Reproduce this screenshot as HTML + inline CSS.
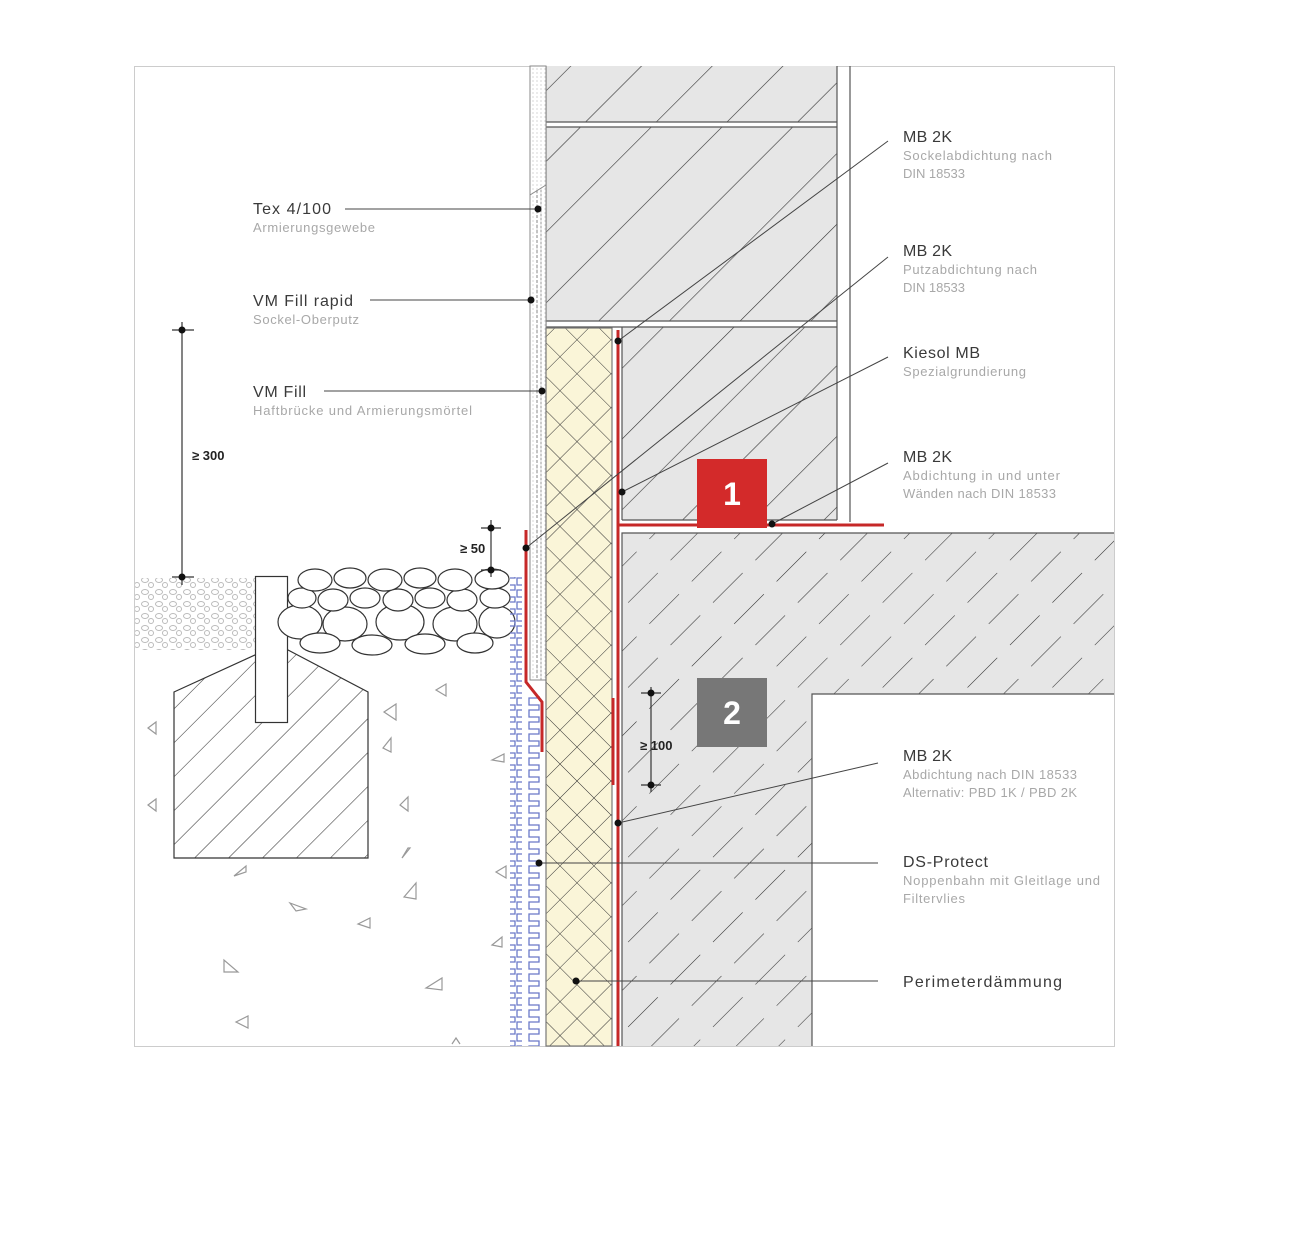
<!DOCTYPE html>
<html><head><meta charset="utf-8"><style>
html,body{margin:0;padding:0;background:#fff}
svg{display:block}
.t{font-family:"Liberation Sans",sans-serif;font-size:16px;fill:#3a3a3a}
.s{font-family:"Liberation Sans",sans-serif;font-size:13px;fill:#a8a8a8}
.d{font-family:"Liberation Sans",sans-serif;font-size:13px;fill:#222;font-weight:bold}
</style></head><body>
<svg width="1292" height="1256" viewBox="0 0 1292 1256" xmlns="http://www.w3.org/2000/svg">
<defs>
<pattern id="mas" width="50" height="50" patternUnits="userSpaceOnUse" patternTransform="rotate(45)">
<rect width="50" height="50" fill="#e6e6e6"/><line x1="0" y1="0" x2="0" y2="50" stroke="#333" stroke-width="1.2"/></pattern>
<pattern id="con" width="30" height="60" patternUnits="userSpaceOnUse" patternTransform="rotate(45)">
<rect width="30" height="60" fill="#e6e6e6"/><line x1="0" y1="0" x2="0" y2="42" stroke="#333" stroke-width="1.1"/></pattern>
<pattern id="foot" width="24" height="24" patternUnits="userSpaceOnUse" patternTransform="rotate(45)">
<rect width="24" height="24" fill="#fff"/><line x1="0" y1="0" x2="0" y2="24" stroke="#333" stroke-width="1.1"/></pattern>
<pattern id="ins" width="24" height="24" patternUnits="userSpaceOnUse" patternTransform="rotate(45)">
<rect width="24" height="24" fill="#faf5d8"/><line x1="0" y1="0" x2="0" y2="24" stroke="#333" stroke-width="1"/><line x1="0" y1="0" x2="24" y2="0" stroke="#333" stroke-width="1"/></pattern>
<pattern id="grav" width="14" height="12" patternUnits="userSpaceOnUse">
<rect width="14" height="12" fill="#fff"/><ellipse cx="5" cy="4" rx="3.5" ry="2.5" fill="none" stroke="#bbb"/><circle cx="11" cy="9" r="2.5" fill="none" stroke="#bbb"/></pattern>
<pattern id="dots" width="4" height="4" patternUnits="userSpaceOnUse"><rect width="4" height="4" fill="#fff"/><circle cx="1" cy="1" r="0.6" fill="#bbb"/></pattern>
<pattern id="nop" width="12" height="12" patternUnits="userSpaceOnUse">
<path d="M11,0 V2 H1 V9 H11 V12" fill="none" stroke="#6a78c8" stroke-width="1.3"/></pattern>
</defs>

<rect x="134.5" y="66.5" width="980" height="980" fill="#fff" stroke="#ccc"/>

<rect x="135" y="578" width="120" height="72" fill="url(#grav)"/>

<polygon points="174,692 255,655 288,650 368,692 368,858 174,858" fill="url(#foot)" stroke="#333" stroke-width="1.2"/>
<rect x="255.5" y="576.5" width="32" height="146" fill="#fff" stroke="#333" stroke-width="1.2"/>

<g fill="#fff" stroke="#333" stroke-width="1.2">
<ellipse cx="300" cy="622" rx="22" ry="17"/><ellipse cx="345" cy="624" rx="22" ry="17"/><ellipse cx="400" cy="622" rx="24" ry="18"/><ellipse cx="455" cy="624" rx="22" ry="17"/><ellipse cx="497" cy="622" rx="18" ry="16"/>
<ellipse cx="320" cy="643" rx="20" ry="10"/><ellipse cx="372" cy="645" rx="20" ry="10"/><ellipse cx="425" cy="644" rx="20" ry="10"/><ellipse cx="475" cy="643" rx="18" ry="10"/>
<ellipse cx="302" cy="598" rx="14" ry="10"/><ellipse cx="333" cy="600" rx="15" ry="11"/><ellipse cx="365" cy="598" rx="15" ry="10"/><ellipse cx="398" cy="600" rx="15" ry="11"/><ellipse cx="430" cy="598" rx="15" ry="10"/><ellipse cx="462" cy="600" rx="15" ry="11"/><ellipse cx="495" cy="598" rx="15" ry="10"/>
<ellipse cx="315" cy="580" rx="17" ry="11"/><ellipse cx="350" cy="578" rx="16" ry="10"/><ellipse cx="385" cy="580" rx="17" ry="11"/><ellipse cx="420" cy="578" rx="16" ry="10"/><ellipse cx="455" cy="580" rx="17" ry="11"/><ellipse cx="492" cy="579" rx="17" ry="10"/>
</g>

<g fill="none" stroke="#999" stroke-width="1.2">
<path d="M148,728 l8,-6 v12z"/><path d="M148,805 l8,-6 v12z"/><path d="M436,690 l10,-6 v12z"/><path d="M384,712 l12,-8 v16z"/><path d="M383,748 l8,-10 v14z"/><path d="M400,805 l8,-8 v14z"/><path d="M402,858 l8,-10 h-2z"/><path d="M404,897 l12,-14 v16z"/><path d="M492,760 l12,-6 v8z"/><path d="M496,872 l10,-6 v12z"/><path d="M492,945 l10,-8 v10z"/><path d="M234,876 l12,-10 v6z"/><path d="M290,903 l16,6 -10,2z"/><path d="M358,924 l12,-6 v10z"/><path d="M224,960 v12 h14z"/><path d="M426,988 l16,-10 v12z"/><path d="M236,1022 l12,-6 v12z"/><path d="M452,1044 l4,-6 4,6"/>
</g>

<rect x="546" y="66" width="291" height="56" fill="url(#mas)"/>
<rect x="546" y="127" width="291" height="194" fill="url(#mas)"/>
<rect x="622" y="327" width="215" height="193" fill="url(#mas)"/>
<g stroke="#555" stroke-width="1.2" fill="none">
<line x1="546" y1="122" x2="837" y2="122"/><line x1="546" y1="127" x2="837" y2="127"/>
<line x1="546" y1="321" x2="837" y2="321"/><line x1="546" y1="327" x2="837" y2="327"/>
<line x1="837" y1="66" x2="837" y2="520"/><line x1="850" y1="66" x2="850" y2="522"/>
<line x1="546" y1="66" x2="546" y2="327"/><line x1="622" y1="327" x2="622" y2="520"/>
<line x1="622" y1="520" x2="837" y2="520"/>
</g>

<rect x="622" y="533" width="492" height="161" fill="url(#con)"/>
<rect x="622" y="694" width="190" height="352" fill="url(#con)"/>
<g stroke="#555" stroke-width="1.2" fill="none">
<polyline points="622,1046 622,533 1114,533"/><polyline points="1114,694 812,694 812,1046"/>
</g>

<rect x="530" y="66" width="16" height="614" fill="url(#dots)" stroke="#888" stroke-width="1"/>
<line x1="537" y1="190" x2="537" y2="680" stroke="#888" stroke-dasharray="3,2"/>
<line x1="541" y1="190" x2="541" y2="680" stroke="#999" stroke-dasharray="2,2"/>
<line x1="530" y1="195" x2="546" y2="185" stroke="#888"/>

<rect x="546" y="328" width="66" height="718" fill="url(#ins)" stroke="#777" stroke-width="1.2"/>

<rect x="510" y="577" width="12" height="469" fill="url(#nop)"/>
<rect x="528" y="696" width="12" height="350" fill="url(#nop)"/>

<g stroke="#c62828" stroke-width="3" fill="none">
<polyline points="526,530 526,682 542,702 542,752"/>
<line x1="618" y1="330" x2="618" y2="1046"/>
<line x1="618" y1="525" x2="884" y2="525"/>
<line x1="613" y1="698" x2="613" y2="785"/>
</g>

<g stroke="#333" stroke-width="1.2">
<line x1="182" y1="322" x2="182" y2="585"/><line x1="172" y1="330" x2="194" y2="330"/><line x1="172" y1="577" x2="194" y2="577"/>
<line x1="491" y1="520" x2="491" y2="577"/><line x1="481" y1="528" x2="501" y2="528"/><line x1="481" y1="570" x2="501" y2="570"/>
<line x1="651" y1="687" x2="651" y2="792"/><line x1="641" y1="693" x2="661" y2="693"/><line x1="641" y1="785" x2="661" y2="785"/>
</g>
<g fill="#111"><circle cx="182" cy="330" r="3.5"/><circle cx="182" cy="577" r="3.5"/><circle cx="491" cy="528" r="3.5"/><circle cx="491" cy="570" r="3.5"/><circle cx="651" cy="693" r="3.5"/><circle cx="651" cy="785" r="3.5"/></g>
<text class="d" x="192" y="460">≥ 300</text>
<text class="d" x="460" y="553">≥ 50</text>
<text class="d" x="640" y="750">≥ 100</text>

<g stroke="#444" stroke-width="1">
<line x1="345" y1="209" x2="538" y2="209"/><line x1="370" y1="300" x2="531" y2="300"/><line x1="324" y1="391" x2="542" y2="391"/>
<line x1="888" y1="141" x2="618" y2="341"/><line x1="888" y1="257" x2="526" y2="548"/><line x1="888" y1="357" x2="622" y2="492"/><line x1="888" y1="463" x2="772" y2="524"/>
<line x1="878" y1="763" x2="618" y2="823"/><line x1="878" y1="863" x2="539" y2="863"/><line x1="878" y1="981" x2="576" y2="981"/>
</g>
<g fill="#111"><circle cx="538" cy="209" r="3.5"/><circle cx="531" cy="300" r="3.5"/><circle cx="542" cy="391" r="3.5"/><circle cx="618" cy="341" r="3.5"/><circle cx="526" cy="548" r="3.5"/><circle cx="622" cy="492" r="3.5"/><circle cx="772" cy="524" r="3.5"/><circle cx="618" cy="823" r="3.5"/><circle cx="539" cy="863" r="3.5"/><circle cx="576" cy="981" r="3.5"/></g>

<rect x="697" y="459" width="70" height="69" fill="#d32a2a"/>
<text x="732" y="505" text-anchor="middle" font-family="Liberation Sans,sans-serif" font-size="32" font-weight="bold" fill="#fff">1</text>
<rect x="697" y="678" width="70" height="69" fill="#777"/>
<text x="732" y="724" text-anchor="middle" font-family="Liberation Sans,sans-serif" font-size="32" font-weight="bold" fill="#fff">2</text>

<text class="t" x="253" y="214" textLength="78">Tex 4/100</text>
<text class="s" x="253" y="232" textLength="122">Armierungsgewebe</text>
<text class="t" x="253" y="306" textLength="100">VM Fill rapid</text>
<text class="s" x="253" y="324" textLength="106">Sockel-Oberputz</text>
<text class="t" x="253" y="397" textLength="53">VM Fill</text>
<text class="s" x="253" y="415" textLength="219">Haftbrücke und Armierungsmörtel</text>

<text class="t" x="903" y="142" textLength="49">MB 2K</text>
<text class="s" x="903" y="160" textLength="149">Sockelabdichtung nach</text>
<text class="s" x="903" y="178" textLength="62">DIN 18533</text>
<text class="t" x="903" y="256" textLength="49">MB 2K</text>
<text class="s" x="903" y="274" textLength="134">Putzabdichtung nach</text>
<text class="s" x="903" y="292" textLength="62">DIN 18533</text>
<text class="t" x="903" y="358" textLength="77">Kiesol MB</text>
<text class="s" x="903" y="376" textLength="123">Spezialgrundierung</text>
<text class="t" x="903" y="462" textLength="49">MB 2K</text>
<text class="s" x="903" y="480" textLength="157">Abdichtung in und unter</text>
<text class="s" x="903" y="498" textLength="153">Wänden nach DIN 18533</text>
<text class="t" x="903" y="761" textLength="49">MB 2K</text>
<text class="s" x="903" y="779" textLength="174">Abdichtung nach DIN 18533</text>
<text class="s" x="903" y="797" textLength="174">Alternativ: PBD 1K / PBD 2K</text>
<text class="t" x="903" y="867" textLength="85">DS-Protect</text>
<text class="s" x="903" y="885" textLength="197">Noppenbahn mit Gleitlage und</text>
<text class="s" x="903" y="903" textLength="62">Filtervlies</text>
<text class="t" x="903" y="987" textLength="159">Perimeterdämmung</text>
</svg>
</body></html>
